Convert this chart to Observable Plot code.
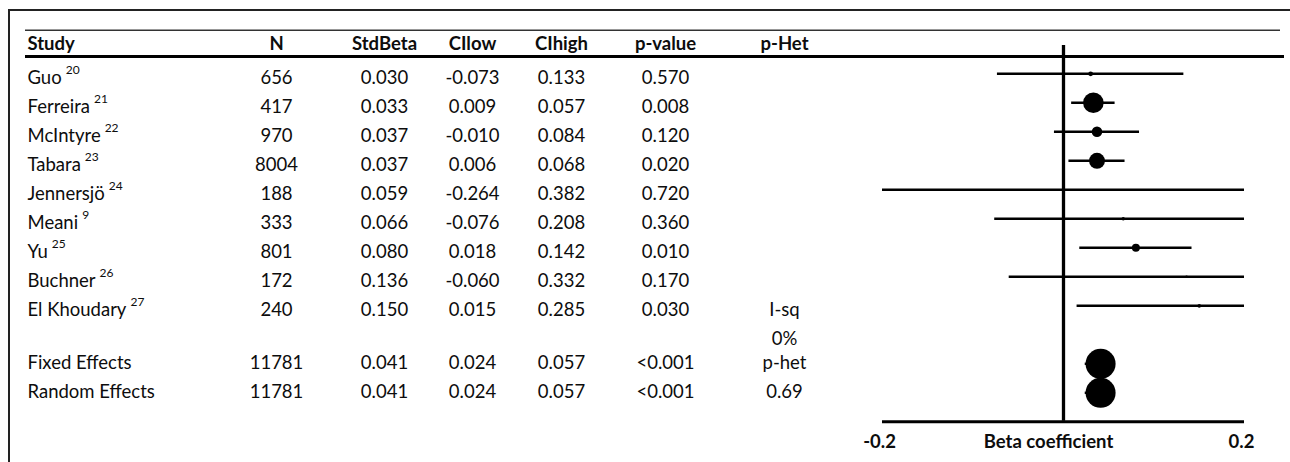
<!DOCTYPE html>
<html>
<head>
<meta charset="utf-8">
<script src="https://cdn.jsdelivr.net/npm/d3@7"></script>
<script src="https://cdn.jsdelivr.net/npm/@observablehq/plot@0.6"></script>
<style>
  html, body { margin: 0; padding: 0; background: #fff; }
  #wrap { position: relative; width: 1290px; height: 462px; overflow: hidden; background: #fff; }
  #border { position: absolute; left: 8px; top: 9px; right: -10px; bottom: -10px;
            border-left: 2px solid #222; border-top: 2px solid #222; pointer-events: none; }
</style>
</head>
<body>
<div id="wrap"><div id="border"></div></div>
<script>
// ---------------- data ----------------
const headers = ["Study", "N", "StdBeta", "CIlow", "CIhigh", "p-value", "p-Het"];
const studies = ["Guo", "Ferreira", "McIntyre", "Tabara", "Jennersjö", "Meani", "Yu", "Buchner", "El Khoudary"];
const refs    = ["20", "21", "22", "23", "24", "9", "25", "26", "27"];
const nValues = [656, 417, 970, 8004, 188, 333, 801, 172, 240];
const stdBeta = [0.030, 0.033, 0.037, 0.037, 0.059, 0.066, 0.080, 0.136, 0.150];
const ciLow   = [-0.073, 0.009, -0.010, 0.006, -0.264, -0.076, 0.018, -0.060, 0.015];
const ciHigh  = [0.133, 0.057, 0.084, 0.068, 0.382, 0.208, 0.142, 0.332, 0.285];
const pValues = ["0.570", "0.008", "0.120", "0.020", "0.720", "0.360", "0.010", "0.170", "0.030"];

const pooledLabels = ["Fixed Effects", "Random Effects"];
const pooledN      = [11781, 11781];
const pooledBeta   = [0.041, 0.041];
const pooledLow    = [0.024, 0.024];
const pooledHigh   = [0.057, 0.057];
const pooledP      = ["<0.001", "<0.001"];

const hetLabels = ["I-sq", "0%", "p-het", "0.69"];

const ticks = [-0.2, 0.2];
const axisLabel = "Beta coefficient";

// ---------------- layout (pixels / styles) ----------------
const FONT = "Lato, 'Open Sans', sans-serif";
const FS = 18.5;
const AXIS_FS = 18.5;
const INK = "#0d0d0d";
const studyX = 27;
const colX = [276, 384, 472, 561, 665, 784]; // centers of headers[1..6]
const dyStudy = 4.1, dyPooled = -0.5, dyHeader = -0.5;

// ---------------- table built from arrays ----------------
const rows = studies.map((s, i) => ({
  label: s, ref: refs[i], n: nValues[i], beta: stdBeta[i], lo: ciLow[i], hi: ciHigh[i],
  p: pValues[i], row: i, pooled: false
})).concat(pooledLabels.map((s, j) => ({
  label: s, ref: null, n: pooledN[j], beta: pooledBeta[j], lo: pooledLow[j], hi: pooledHigh[j],
  p: pooledP[j], row: studies.length + 1 + j, pooled: true
})));
// inverse-variance weight from the CI width (drives marker size)
rows.forEach(d => { const se = (d.hi - d.lo) / 3.92; d.w = 1 / (se * se); });

const hetRows = hetLabels.map((t, k) => ({ text: t, row: studies.length - 1 + k, pooled: studies.length - 1 + k > studies.length }));
const headerRow = -1;
const axisRow = d3.max(rows, d => d.row) + 1;

const cols = [
  { text: d => String(d.n) },
  { text: d => d.beta.toFixed(3) },
  { text: d => d.lo.toFixed(3) },
  { text: d => d.hi.toFixed(3) },
  { text: d => d.p }
];

function textPair(data, opts) {
  return [
    Plot.text(data, { ...opts, filter: d => !d.pooled, dy: dyStudy }),
    Plot.text(data, { ...opts, filter: d => d.pooled, dy: dyPooled })
  ];
}

const base = { frameAnchor: "left", y: "row", fill: INK, fontSize: FS };

const marks = [
  // header rules
  Plot.ruleY([headerRow - 0.5], { insetLeft: 25, insetRight: 10, stroke: "#333", strokeWidth: 1.5 }),
  Plot.ruleY([headerRow + 0.4], { insetLeft: 25, insetRight: 6, stroke: "#000", strokeWidth: 3 }),
  // header texts
  Plot.text([headers[0]], { frameAnchor: "left", y: () => headerRow, text: d => d, dx: studyX, dy: dyHeader,
    textAnchor: "start", fontWeight: "bold", fontSize: FS, fill: INK }),
  ...headers.slice(1).map((h, k) => Plot.text([h], { frameAnchor: "left", y: () => headerRow, text: d => d,
    dx: colX[k], dy: dyHeader, textAnchor: "middle", fontWeight: "bold", fontSize: FS, fill: INK })),
  // study names
  ...textPair(rows, { ...base, text: "label", dx: studyX, textAnchor: "start" }),
  // numeric columns
  ...cols.flatMap((c, k) => textPair(rows, { ...base, text: c.text, dx: colX[k], textAnchor: "middle" })),
  // heterogeneity
  ...textPair(hetRows, { ...base, text: "text", dx: colX[5], textAnchor: "middle" }),
  // forest plot
  Plot.ruleX([0], { stroke: "#000", strokeWidth: 3.3 }),
  Plot.ruleY(rows, { y: "row", x1: "lo", x2: "hi", stroke: "#000", strokeWidth: 2.5 }),
  Plot.dot(rows, { x: "beta", y: "row", r: "w", fill: "#000", stroke: "none" }),
  Plot.ruleY([axisRow], { x1: () => ticks[0], x2: () => ticks[ticks.length - 1], stroke: "#000", strokeWidth: 3 }),
  Plot.axisX({ ticks, tickFormat: d => d.toFixed(1), tickSize: 0, tickPadding: 14, label: null, dx: -3,
    fontSize: AXIS_FS, fontWeight: "bold", fill: INK, anchor: "bottom" }),
  Plot.text([axisLabel], { x: () => d3.mean(ticks), y: () => axisRow, text: d => d, dx: -15, dy: 20.5,
    fontSize: AXIS_FS, fontWeight: "bold", fill: INK })
];

const svg = Plot.plot({
  width: 1290, height: 462,
  marginLeft: 0, marginRight: 0, marginTop: 45, marginBottom: 41.3,
  style: { fontFamily: FONT, background: "#fff", color: INK },
  x: { domain: [ticks[0], ticks[ticks.length - 1]], range: [882, 1244], clamp: true },
  y: { domain: [-1, 11], range: [44.3, 392.3], axis: null },
  r: { range: [0, 15] },
  marks
});

// superscript reference numbers after study names
const refByLabel = new Map(rows.filter(d => d.ref).map(d => [d.label, d.ref]));
d3.select(svg).selectAll("text").each(function () {
  const r = refByLabel.get(this.textContent);
  if (r) d3.select(this).append("tspan").attr("dx", 4).attr("dy", -10).attr("font-size", 12).text(r);
});

const wrap = document.getElementById("wrap");
wrap.insertBefore(svg, wrap.firstChild);
</script>
</body>
</html>
